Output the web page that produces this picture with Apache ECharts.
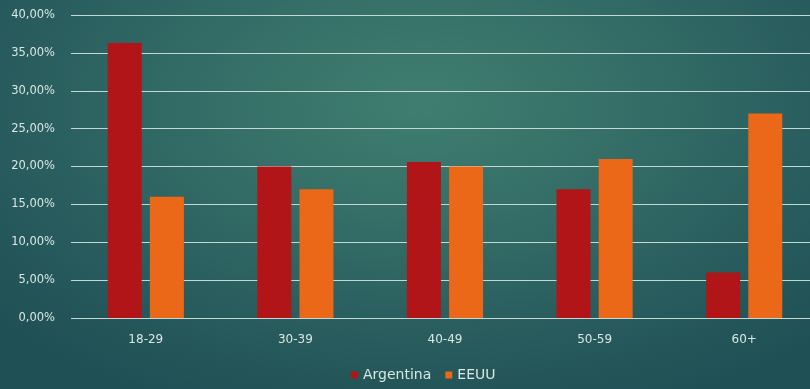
<!DOCTYPE html>
<html>
<head>
<meta charset="utf-8">
<script src="https://cdn.jsdelivr.net/npm/echarts@6/dist/echarts.min.js"></script>
<style>
  html, body { margin: 0; padding: 0; overflow: hidden; width: 810px; height: 389px; }
  #frame {
    width: 810px; height: 389px; overflow: hidden;
    background: radial-gradient(ellipse 70% 85% at 52% 26%, #407e70 0%, #356f68 35%, #295d5e 70%, #1f5055 100%);
  }
  /* the plot area runs slightly past the right edge, so the canvas is wider than the frame */
  #chart { width: 830px; height: 389px; }
</style>
</head>
<body>
<div id="frame"><div id="chart"></div></div>
<script>
// Age groups and share of each group per country
const categories = ['18-29', '30-39', '40-49', '50-59', '60+'];
const argentina = [36.3, 20.0, 20.6, 17.0, 6.0];
const eeuu = [16.0, 17.0, 20.0, 21.0, 27.0];
const yTicks = [0, 5, 10, 15, 20, 25, 30, 35, 40];

const textColor = '#d9e6e3';
const fontFamily = '"DejaVu Sans", sans-serif';

const chart = echarts.init(document.getElementById('chart'), null, { renderer: 'canvas' });
chart.setOption({
  backgroundColor: 'transparent',
  animation: false,
  grid: { left: 71, width: 748, top: 15, bottom: 71, containLabel: false },
  legend: {
    bottom: 2,
    left: 346,
    itemWidth: 7,
    itemHeight: 7,
    itemGap: 14,
    icon: 'rect',
    textStyle: { color: textColor, fontSize: 14, fontFamily: fontFamily },
    data: ['Argentina', 'EEUU']
  },
  xAxis: {
    type: 'category',
    data: categories,
    axisLine: { show: false },
    axisTick: { show: false },
    axisLabel: { color: textColor, fontSize: 12, fontFamily: fontFamily, margin: 16 }
  },
  yAxis: {
    type: 'value',
    min: yTicks[0],
    max: yTicks[yTicks.length - 1],
    interval: 5,
    axisLine: { show: false },
    axisTick: { show: false },
    splitLine: { lineStyle: { color: '#c4d8d4', width: 1.2 } },
    axisLabel: {
      color: textColor, fontSize: 11.5, fontFamily: fontFamily, margin: 16,
      formatter: v => v.toFixed(2).replace('.', ',') + '%'
    }
  },
  series: [
    {
      name: 'Argentina',
      type: 'bar',
      data: argentina,
      barWidth: 34,
      barGap: '24%',
      itemStyle: { color: '#b11517' }
    },
    {
      name: 'EEUU',
      type: 'bar',
      data: eeuu,
      barWidth: 34,
      itemStyle: { color: '#ea6817' }
    }
  ]
});
</script>
</body>
</html>
